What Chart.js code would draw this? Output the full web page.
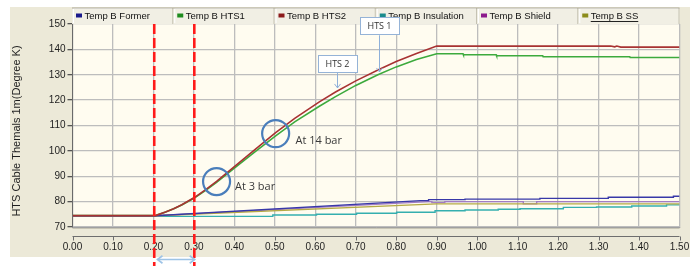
<!DOCTYPE html>
<html><head><meta charset="utf-8">
<script src="https://cdn.jsdelivr.net/npm/chart.js@4/dist/chart.umd.min.js"></script>
<style>html,body{margin:0;padding:0;background:#fff;overflow:hidden}</style>
</head><body>
<canvas id="c" width="698" height="266"></canvas>
<script>
// ---------- data ----------
const seriesNames = ['Temp B Former','Temp B HTS1','Temp B HTS2','Temp B Insulation','Temp B Shield','Temp B SS'];
const xTickValues = [0.00,0.10,0.20,0.30,0.40,0.50,0.60,0.70,0.80,0.90,1.00,1.10,1.20,1.30,1.40,1.50];
const yTickValues = [70,80,90,100,110,120,130,140,150];
const yTitle = 'HTS Cable Themals 1m(Degree K)';

const formerTime = [0,0.205,0.86,0.88,0.88,0.97,0.97,1.155,1.155,1.324,1.324,1.485,1.485,1.50];
const formerTemp = [74.45,74.45,80.4,80.4,80.8,80.8,81.0,81.0,81.3,81.3,81.7,81.7,82.1,82.1];

const hts1Time = [0,0.205,0.23,0.25,0.27,0.30,0.33,0.356,0.40,0.45,0.502,0.55,0.61,0.65,0.70,0.756,0.80,0.85,0.90,0.965,0.966,1.047,1.048,1.162,1.163,1.377,1.378,1.50];
const hts1Temp = [74.5,74.5,75.9,77.2,78.7,81.3,84.5,87.6,93.2,99.5,105.9,111.5,117.6,121.4,125.8,130.1,133.1,136.0,138.3,138.3,137.9,137.9,137.5,137.5,137.1,137.1,136.8,136.8];

const hts2Time = [0,0.205,0.23,0.25,0.27,0.30,0.33,0.356,0.40,0.45,0.502,0.55,0.61,0.65,0.70,0.756,0.80,0.85,0.90,1.33,1.34,1.345,1.355,1.50];
const hts2Temp = [74.5,74.5,75.9,77.2,78.8,81.5,84.8,88.0,93.8,100.4,107.2,112.9,119.3,123.2,127.6,132.0,135.2,138.4,141.3,141.3,141.0,141.3,140.9,140.9];

const insulationTime = [0,0.205,0.495,0.495,0.603,0.603,0.702,0.702,0.801,0.801,0.896,0.896,0.970,0.970,1.052,1.052,1.106,1.106,1.213,1.213,1.295,1.295,1.382,1.382,1.468,1.468,1.50];
const insulationTemp = [74.4,74.2,74.2,74.7,74.7,75.0,75.0,75.4,75.4,75.8,75.8,76.4,76.4,76.7,76.7,77.0,77.0,77.2,77.2,77.75,77.75,77.9,77.9,78.3,78.3,78.7,78.7];

const shieldTime = [0,0.205,0.88,0.888,0.888,0.92,0.92,1.114,1.114,1.147,1.147,1.50];
const shieldTemp = [74.45,74.45,80.0,80.0,79.6,79.6,80.0,80.0,79.1,79.1,80.0,80.0];

const ssTime = [0,0.205,0.90,1.50];
const ssTemp = [74.45,74.45,79.1,79.1];

// ---------- styles ----------
const lineColors   = ['#3838A8','#3DAA3D','#A83232','#35AFAF','#A27CC4','#B5AA45'];
const legendColors = ['#1A1A8C','#1E8C1E','#8C1A1A','#1A8C8C','#8C1A8C','#8C8C1A'];
const seriesTimes = [formerTime,hts1Time,hts2Time,insulationTime,shieldTime,ssTime];
const seriesTemps = [formerTemp,hts1Temp,hts2Temp,insulationTemp,shieldTemp,ssTemp];
const seriesOrder = [1,2,0,3,2,1];

// annotations in data units
const markerLines = [0.202, 0.301];
const circles = [{x:0.356,y:87.9},{x:0.502,y:106.8}];
const notes = [{text:'At 3 bar',x:0.4015,y:86.0},{text:'At 14 bar',x:0.551,y:104.1}];
const callouts = [{text:'HTS 1',x:0.758,boxY:149.1,tipY:131.1},{text:'HTS 2',x:0.6536,boxY:134.2,tipY:124.8}];
const spanArrow = {from:0.21,to:0.302};

const datasets = seriesNames.map((name,i)=>({
  label:name,
  data: seriesTimes[i].map((t,j)=>({x:t,y:seriesTemps[i][j]})),
  borderColor: lineColors[i],
  backgroundColor: legendColors[i],
  borderWidth: (i===1||i===2)?1.6:1.4,
  pointRadius:0,
  tension:0,
  fill:false,
  order: seriesOrder[i]
}));

function arrowHead(ctx,x,y,dx,dy,s){
  // dx,dy unit direction of arrow
  const px=-dy, py=dx;
  ctx.beginPath();
  ctx.moveTo(x-dx*s+px*s*0.75, y-dy*s+py*s*0.75);
  ctx.lineTo(x,y);
  ctx.lineTo(x-dx*s-px*s*0.75, y-dy*s-py*s*0.75);
  ctx.stroke();
}

const decor = {
  id:'decor',
  beforeDraw(chart){
    const {ctx, chartArea:a, width, height} = chart;
    ctx.save();
    ctx.fillStyle='#FFFFFF'; ctx.fillRect(0,0,width,height);
    ctx.fillStyle='#ECE9D8'; ctx.fillRect(10,7,680,250);
    ctx.fillStyle='#FFFCF0'; ctx.fillRect(a.left,a.top,a.right-a.left,a.bottom-a.top);
    ctx.restore();
  },
  afterDraw(chart){
    const {ctx, chartArea:a, width, height} = chart;
    const xs = chart.scales.x, ys = chart.scales.y;
    ctx.save();
    // x axis line (offset strip) and ticks
    const axY = a.bottom + 9.5;
    ctx.strokeStyle='#6E6E6E'; ctx.lineWidth=1;
    ctx.beginPath(); ctx.moveTo(a.left,axY); ctx.lineTo(a.right,axY); ctx.stroke();
    xs.ticks.forEach(t=>{
      const px = Math.round(xs.getPixelForValue(t.value))+0.5;
      ctx.beginPath(); ctx.moveTo(px,axY); ctx.lineTo(px,axY+4); ctx.stroke();
    });
    ctx.strokeStyle='#C8C5B5';
    ctx.beginPath(); ctx.moveTo(a.left,a.bottom+1.5); ctx.lineTo(a.right,a.bottom+1.5); ctx.stroke();

    // y axis title
    ctx.save();
    ctx.translate(17,131); ctx.rotate(-Math.PI/2);
    ctx.fillStyle='#1E1E1E'; ctx.font='11px "Liberation Sans", Arial, sans-serif';
    ctx.textAlign='center'; ctx.textBaseline='middle';
    ctx.fillText(yTitle,0,0);
    ctx.restore();

    // legend bar
    const lx0=a.left-0.5, lx1=a.right, ly0=8, ly1=a.top;
    ctx.fillStyle='#F1EFE4'; ctx.fillRect(lx0,ly0,lx1-lx0,ly1-ly0);
    const cw=(lx1-lx0)/seriesNames.length;
    ctx.font='9.5px "Liberation Sans", Arial, sans-serif';
    ctx.textBaseline='middle'; ctx.textAlign='left';
    seriesNames.forEach((n,i)=>{
      const cx=lx0+i*cw;
      ctx.strokeStyle='#FFFFFF'; ctx.lineWidth=1;
      ctx.beginPath(); ctx.moveTo(cx+1.5,ly1-1); ctx.lineTo(cx+1.5,ly0+0.5); ctx.lineTo(cx+cw-1,ly0+0.5); ctx.stroke();
      ctx.strokeStyle='#C5C2B2';
      ctx.beginPath(); ctx.moveTo(cx+cw-0.5,ly0); ctx.lineTo(cx+cw-0.5,ly1); ctx.stroke();
      ctx.fillStyle=legendColors[i]; ctx.fillRect(cx+4,13.5,6,4);
      ctx.fillStyle='#111111'; ctx.fillText(n,cx+12.5,16);
      if(i===seriesNames.length-1){
        const w=ctx.measureText(n).width;
        ctx.strokeStyle='#222'; ctx.beginPath(); ctx.moveTo(cx+12.5,21.5); ctx.lineTo(cx+12.5+w,21.5); ctx.stroke();
      }
    });
    ctx.strokeStyle='#ACA899';
    ctx.beginPath(); ctx.moveTo(lx0,ly0); ctx.lineTo(lx1,ly0); ctx.stroke();

    // red dashed marker lines
    ctx.strokeStyle='#FF1A1A'; ctx.lineWidth=2.6; ctx.setLineDash([10,4]);
    markerLines.forEach(v=>{
      const px=xs.getPixelForValue(v);
      ctx.beginPath(); ctx.moveTo(px,a.top); ctx.lineTo(px,height); ctx.stroke();
    });
    ctx.setLineDash([]);

    // circles
    ctx.strokeStyle='#4A7EBB'; ctx.lineWidth=2.2;
    circles.forEach(c=>{
      ctx.beginPath(); ctx.arc(xs.getPixelForValue(c.x),ys.getPixelForValue(c.y),13.5,0,Math.PI*2); ctx.stroke();
    });
    // notes
    ctx.fillStyle='#3A3A3A'; ctx.font='11px "Open Sans", sans-serif'; ctx.textBaseline='middle'; ctx.textAlign='left';
    notes.forEach(n=>ctx.fillText(n.text,xs.getPixelForValue(n.x),ys.getPixelForValue(n.y)));

    // callouts
    callouts.forEach(c=>{
      const cx=Math.round(xs.getPixelForValue(c.x))+0.5, by=ys.getPixelForValue(c.boxY), ty=ys.getPixelForValue(c.tipY);
      const w=40,h=18;
      ctx.strokeStyle='#8EB0DA'; ctx.lineWidth=1;
      ctx.beginPath(); ctx.moveTo(cx,by+h/2); ctx.lineTo(cx,ty); ctx.stroke();
      arrowHead(ctx,cx,ty,0,1,4);
      ctx.fillStyle='#FFFFFF';
      ctx.fillRect(Math.round(cx-w/2),Math.round(by-h/2),w,h);
      ctx.strokeStyle='#95B3D7';
      ctx.strokeRect(Math.round(cx-w/2)+0.5,Math.round(by-h/2)+0.5,w-1,h-1);
      ctx.fillStyle='#333333'; ctx.font='9px "Open Sans", sans-serif'; ctx.textAlign='center'; ctx.textBaseline='middle';
      ctx.fillText(c.text,cx,by+0.5);
    });

    // span arrow below axis
    const ax0=xs.getPixelForValue(spanArrow.from), ax1=xs.getPixelForValue(spanArrow.to), ay=height-6.5;
    ctx.strokeStyle='#9DC3E6'; ctx.lineWidth=1.6;
    ctx.beginPath(); ctx.moveTo(ax0,ay); ctx.lineTo(ax1,ay); ctx.stroke();
    arrowHead(ctx,ax1,ay,1,0,5);
    arrowHead(ctx,ax0,ay,-1,0,5);
    ctx.restore();
  }
};

Chart.defaults.font.family='"Liberation Sans", Arial, sans-serif';
new Chart(document.getElementById('c'),{
  type:'line',
  data:{datasets},
  options:{
    responsive:false, animation:false, devicePixelRatio:1,
    layout:{padding:{left:0,top:24,right:18.5,bottom:0}},
    plugins:{legend:{display:false},tooltip:{enabled:false},title:{display:false}},
    scales:{
      x:{type:'linear',min:0,max:1.5,
        afterFit:s=>{s.height=39;},
        afterBuildTicks:s=>{s.ticks=xTickValues.map(v=>({value:v}));},
        ticks:{callback:v=>Number(v).toFixed(2),color:'#1E1E1E',font:{size:10},padding:1,maxRotation:0,autoSkip:false},
        grid:{color:'#BDBDBD',lineWidth:1.3,drawTicks:true,tickLength:13,tickColor:'rgba(0,0,0,0)'},
        border:{display:true,color:'#A0A0A0',width:1}
      },
      y:{type:'linear',min:70,max:150,
        afterFit:s=>{s.width=72.5;},
        afterBuildTicks:s=>{s.ticks=yTickValues.map(v=>({value:v}));},
        ticks:{color:'#1E1E1E',font:{size:10},padding:2},
        grid:{color:'#BDBDBD',lineWidth:1.3,tickLength:5,tickColor:'#555555'},
        border:{display:true,color:'#6A6A6A',width:1}
      }
    }
  },
  plugins:[decor]
});
</script>
</body></html>
